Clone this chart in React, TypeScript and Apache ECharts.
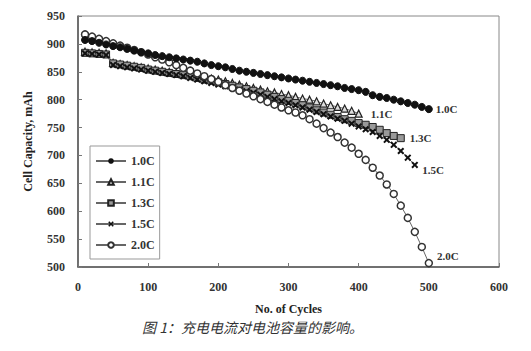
import React, { useEffect, useRef } from "react";
import * as echarts from "echarts";

const cycles = [
  10, 20, 30, 40, 50, 60, 70, 80, 90, 100,
  110, 120, 130, 140, 150, 160, 170, 180, 190, 200,
  210, 220, 230, 240, 250, 260, 270, 280, 290, 300,
  310, 320, 330, 340, 350, 360, 370, 380, 390, 400,
  410, 420, 430, 440, 450, 460, 470, 480, 490, 500,
];

const seriesNames = ["1.0C", "1.1C", "1.3C", "1.5C", "2.0C"];

const cap10 = [
  907, 905, 902, 899, 896, 894, 891, 888, 885, 883,
  880, 878, 876, 874, 872, 870, 868, 865, 862, 860,
  858, 855, 852, 850, 848, 846, 844, 842, 840, 838,
  836, 834, 832, 830, 828, 826, 824, 821, 819, 817,
  814, 808, 805, 803, 800, 797, 794, 791, 787, 783,
];

const cap11 = [
  886, 885, 884, 883, 866, 864, 862, 860, 858, 856,
  854, 852, 850, 848, 846, 844, 842, 840, 838, 836,
  833, 830, 827, 824, 821, 818, 815, 813, 810, 808,
  805, 802, 800, 797, 793, 790, 787, 784, 780, 775,
];

const cap13 = [
  884, 883, 882, 881, 865, 863, 861, 859, 857, 854,
  852, 850, 848, 846, 844, 842, 839, 836, 834, 831,
  828, 825, 822, 819, 816, 813, 809, 805, 801, 798,
  794, 790, 786, 781, 777, 773, 769, 765, 762, 758,
  755, 751, 746, 740, 735, 731,
];

const cap15 = [
  883, 882, 881, 880, 862, 860, 858, 856, 854, 852,
  850, 848, 846, 844, 842, 839, 836, 833, 830, 827,
  824, 821, 818, 815, 812, 809, 805, 801, 797, 794,
  790, 786, 782, 778, 774, 770, 766, 762, 757, 752,
  747, 742, 735, 728, 719, 708, 696, 683,
];

const cap20 = [
  917, 913, 909, 905, 901, 897, 893, 889, 885, 881,
  876, 872, 867, 862, 857, 852, 847, 842, 837, 832,
  826, 821, 816, 811, 806, 801, 796, 791, 786, 781,
  777, 772, 765, 757, 749, 741, 733, 723, 714, 703,
  692, 678, 664, 648, 631, 610, 588, 563, 536, 507,
];

const xTicks = { min: 0, max: 600, interval: 100 };
const yTicks = { min: 500, max: 950, interval: 50 };

const SERIF = "'Liberation Serif', 'DejaVu Serif', serif";
const CROSS =
  "path://M2,0 L5,3 L8,0 L10,2 L7,5 L10,8 L8,10 L5,7 L2,10 L0,8 L3,5 L0,2 Z";

function buildData(vals: number[], name: string, offset: number[], distance: number) {
  return vals.map((v, i) => {
    if (i === vals.length - 1) {
      return {
        value: [cycles[i], v],
        label: {
          show: true,
          position: "right",
          distance,
          offset,
          formatter: name,
          fontFamily: SERIF,
          fontWeight: "bold",
          fontSize: 11,
          color: "#333",
        },
      };
    }
    return { value: [cycles[i], v] };
  });
}

export default function App() {
  const ref = useRef<HTMLDivElement>(null);

  useEffect(() => {
    if (!ref.current) return;
    const chart = echarts.init(ref.current, undefined, { renderer: "svg" });

    const lineStyle = { color: "#666", width: 1 };
    const axisLabel = {
      fontFamily: SERIF,
      fontWeight: "bold",
      fontSize: 12,
      color: "#333",
    };
    const nameTextStyle = {
      fontFamily: SERIF,
      fontWeight: "bold",
      fontSize: 12,
      color: "#222",
    };

    const option: any = {
      animation: false,
      backgroundColor: "#fff",
      grid: {
        left: 78,
        right: 32,
        top: 16,
        bottom: 84,
        show: true,
        borderColor: "#888",
        borderWidth: 1,
      },
      xAxis: {
        type: "value",
        min: xTicks.min,
        max: xTicks.max,
        interval: xTicks.interval,
        name: "No. of Cycles",
        nameLocation: "middle",
        nameGap: 36,
        nameTextStyle,
        axisLine: { show: true, onZero: false, lineStyle: { color: "#555", width: 1.5 } },
        axisTick: { show: true, inside: true, length: 4, lineStyle: { color: "#777" } },
        axisLabel: { ...axisLabel, margin: 14 },
        splitLine: { show: false },
      },
      yAxis: {
        type: "value",
        min: yTicks.min,
        max: yTicks.max,
        interval: yTicks.interval,
        name: "Cell Capacity, mAh",
        nameLocation: "middle",
        nameGap: 44,
        nameRotate: 90,
        nameTextStyle,
        axisLine: { show: true, onZero: false, lineStyle: { color: "#555", width: 1.5 } },
        axisTick: { show: true, inside: true, length: 4, lineStyle: { color: "#777" } },
        axisLabel: { ...axisLabel, margin: 13 },
        splitLine: { show: false },
      },
      legend: {
        orient: "vertical",
        left: 90,
        top: 146,
        itemWidth: 30,
        itemHeight: 7,
        itemGap: 9,
        padding: [9, 5, 8, 5],
        borderColor: "#999",
        borderWidth: 1,
        backgroundColor: "#fff",
        data: seriesNames,
        textStyle: { fontFamily: SERIF, fontWeight: "bold", fontSize: 12, color: "#333" },
      },
      series: [
        {
          name: "1.0C",
          type: "line",
          data: buildData(cap10, "1.0C", [0, 0], 3),
          symbol: "circle",
          symbolSize: 7,
          itemStyle: { color: "#111", borderColor: "#111" },
          lineStyle,
          z: 5,
        },
        {
          name: "1.1C",
          type: "line",
          data: buildData(cap11, "1.1C", [0, 0], 8),
          symbol: "triangle",
          symbolSize: 7,
          itemStyle: { color: "#ddd", borderColor: "#222", borderWidth: 1.2 },
          lineStyle,
          z: 3,
        },
        {
          name: "1.3C",
          type: "line",
          data: buildData(cap13, "1.3C", [0, 0], 5),
          symbol: "rect",
          symbolSize: 7,
          itemStyle: { color: "#999", borderColor: "#222", borderWidth: 1 },
          lineStyle,
          z: 3,
        },
        {
          name: "1.5C",
          type: "line",
          data: buildData(cap15, "1.5C", [0, 5], 4),
          symbol: CROSS,
          symbolSize: 7,
          itemStyle: { color: "#111" },
          lineStyle,
          z: 4,
        },
        {
          name: "2.0C",
          type: "line",
          data: buildData(cap20, "2.0C", [0, -7], 4),
          symbol: "circle",
          symbolSize: 7,
          itemStyle: { color: "#fff", borderColor: "#333", borderWidth: 1.5 },
          lineStyle,
          z: 4,
        },
      ],
      graphic: [
        {
          type: "text",
          left: 142,
          top: 320,
          style: {
            text: "图 1：充电电流对电池容量的影响。",
            font: "italic 14px 'Noto Sans CJK SC'",
            fill: "#333",
          },
        },
      ],
    };

    chart.setOption(option);
    return () => chart.dispose();
  }, []);

  return (
    <div
      ref={ref}
      style={{ position: "fixed", left: 0, top: 0, width: 531, height: 351 }}
    />
  );
}
